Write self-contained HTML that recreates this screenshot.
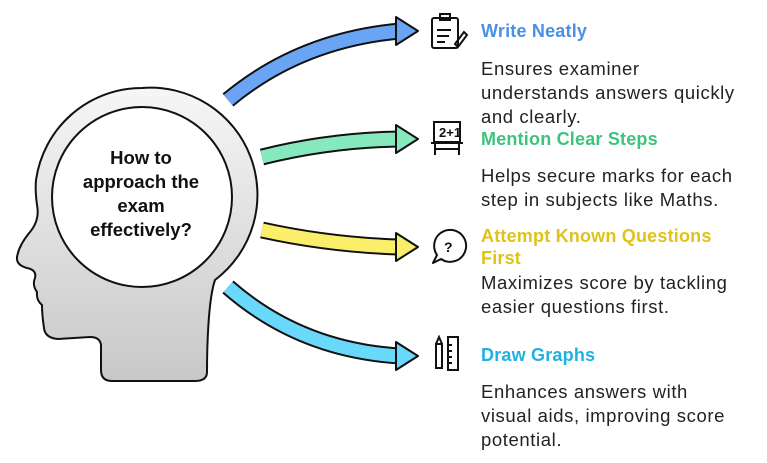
<!DOCTYPE html>
<html><head><meta charset="utf-8"><style>
body{margin:0;width:767px;height:463px;background:#fff;overflow:hidden;font-family:"Liberation Sans",sans-serif;position:relative}
.t{position:absolute;left:481px;font-weight:bold;font-size:18px;line-height:22px;white-space:nowrap;letter-spacing:0.2px}
.b{position:absolute;left:481px;font-size:18.5px;line-height:24px;color:#222;white-space:nowrap;letter-spacing:0.6px}
</style></head><body>
<svg width="767" height="463" style="position:absolute;left:0;top:0">
<defs><linearGradient id="g" x1="0" y1="0" x2="0" y2="1"><stop offset="0" stop-color="#f6f6f6"/><stop offset="1" stop-color="#c8c8c8"/></linearGradient></defs>
<path d="M142,88 A107,107 0 0 1 215,280 C208,300 207,350 207,372 Q207,381 195,381 L112,381 Q101,381 101,370 L101,345 Q100,337 90,337 L58,339 Q45,338 44,328 Q42,315 42,305 Q36,300 37,292 Q32,285 35,278 Q37,270 27,268 Q16,265 17,257 Q19,245 30,232 Q40,220 37,205 Q35,190 36,180 A107,107 0 0 1 142,88 Z" fill="url(#g)" stroke="#111" stroke-width="2"/>
<circle cx="142" cy="197" r="90" fill="#fff" stroke="#111" stroke-width="2"/>
<g fill="none" stroke-linecap="butt">
<path d="M228,100 Q300,40 400,31" stroke="#111" stroke-width="17"/><path d="M228,100 Q300,40 400,31" stroke="#6aa5f5" stroke-width="13"/>
<path d="M262,157 Q330,140 400,139" stroke="#111" stroke-width="17"/><path d="M262,157 Q330,140 400,139" stroke="#86e8bd" stroke-width="13"/>
<path d="M262,230 Q330,245 400,247" stroke="#111" stroke-width="17"/><path d="M262,230 Q330,245 400,247" stroke="#fbee6a" stroke-width="13"/>
<path d="M228,287 Q300,350 400,356" stroke="#111" stroke-width="17"/><path d="M228,287 Q300,350 400,356" stroke="#6ad8fa" stroke-width="13"/>
</g>
<g stroke="#111" stroke-width="2" stroke-linejoin="round">
<polygon points="396,17 418,31 396,45" fill="#6aa5f5"/>
<polygon points="396,125 418,139 396,153" fill="#86e8bd"/>
<polygon points="396,233 418,247 396,261" fill="#fbee6a"/>
<polygon points="396,342 418,356 396,370" fill="#6ad8fa"/>
</g>
<g fill="none" stroke="#111" stroke-width="2">
<rect x="432" y="18" width="26" height="30" rx="2"/><rect x="440" y="14" width="10" height="6"/><path d="M437,30h14M437,36h12M437,42h8M455,44l9,-12l3,3l-9,12z"/>
<rect x="434" y="122" width="26" height="20"/><path d="M431,143h32M435,143v12M459,143v12M435,149h24"/>
<path d="M437,255 A16,16 0 1 1 441,259 L433,263 Z" stroke-linejoin="round"/>
<rect x="436" y="344" width="6" height="24"/><rect x="448" y="337" width="10" height="33"/><path d="M436,344l3,-7l3,7M448,345h4M448,351h4M448,357h4M448,363h4"/>
</g>
<text x="439" y="137" font-family="Liberation Sans" font-weight="bold" font-size="13" fill="#111">2+1</text>
<text x="444" y="252" font-family="Liberation Sans" font-weight="bold" font-size="14" fill="#111">?</text>
<text font-family="Liberation Sans" font-weight="bold" font-size="18.5" fill="#111" text-anchor="middle"><tspan x="141" y="164">How to</tspan><tspan x="141" y="188">approach the</tspan><tspan x="141" y="212">exam</tspan><tspan x="141" y="236">effectively?</tspan></text>
</svg>
<div class="t" style="top:20px;color:#4a90e6">Write Neatly</div>
<div class="b" style="top:57px">Ensures examiner<br>understands answers quickly<br>and clearly.</div>
<div class="t" style="top:128px;color:#3cc47c">Mention Clear Steps</div>
<div class="b" style="top:164px">Helps secure marks for each<br>step in subjects like Maths.</div>
<div class="t" style="top:225px;color:#e0c318">Attempt Known Questions<br>First</div>
<div class="b" style="top:271px">Maximizes score by tackling<br>easier questions first.</div>
<div class="t" style="top:344px;color:#1fb2e0">Draw Graphs</div>
<div class="b" style="top:380px">Enhances answers with<br>visual aids, improving score<br>potential.</div>
</body></html>
